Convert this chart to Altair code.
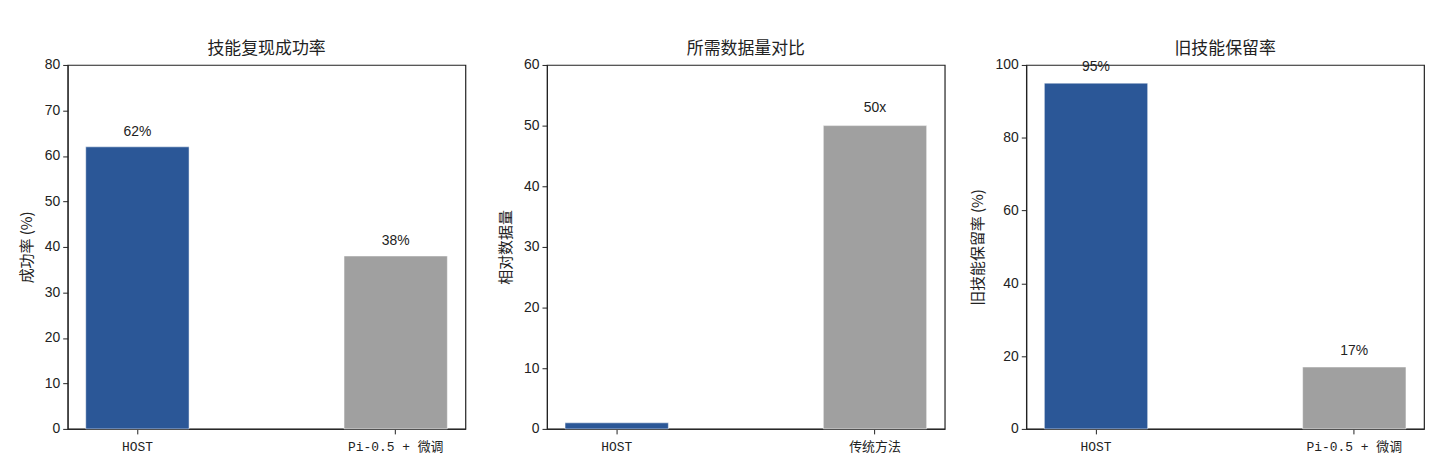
import altair as alt
import pandas as pd

# ---- data ----
titles = ["技能复现成功率", "所需数据量对比", "旧技能保留率"]
y_titles = ["成功率 (%)", "相对数据量", "旧技能保留率 (%)"]
categories_1 = ["HOST", "Pi-0.5 + 微调"]
values_1 = [62, 38]
labels_1 = ["62%", "38%"]
categories_2 = ["HOST", "传统方法"]
values_2 = [1, 50]
labels_2 = ["", "50x"]
categories_3 = ["HOST", "Pi-0.5 + 微调"]
values_3 = [95, 17]
labels_3 = ["95%", "17%"]
y_max = [80, 60, 100]
y_ticks = [list(range(0, 81, 10)), list(range(0, 61, 10)), list(range(0, 101, 20))]
label_dy = [-15, -18, -16]

BLUE = "#2B5797"
GRAY = "#A0A0A0"

CJK = "Noto Sans CJK SC"
INK = "#222222"


def panel(cats, vals, labs, title, ytitle, ymax, ticks, dy):
    df = pd.DataFrame({"cat": cats, "val": vals, "lab": labs,
                       "color": [BLUE, GRAY]})
    x = alt.X("cat:N", sort=cats,
              scale=alt.Scale(paddingInner=0.6, paddingOuter=0.07),
              axis=alt.Axis(title=None, labelAngle=0, labelFont="Liberation Mono, " + CJK,
                            labelFontSize=13, labelColor=INK, labelPadding=7,
                            tickSize=5, tickColor=INK, domainColor=INK))
    y = alt.Y("val:Q", scale=alt.Scale(domain=[0, ymax], nice=False),
              axis=alt.Axis(title=ytitle, values=ticks, titleFont=CJK, titleFontSize=15,
                            titleFontWeight="normal", titleColor=INK,
                            labelFont="Liberation Sans", labelFontSize=14, labelColor=INK,
                            labelPadding=3, tickSize=5, tickColor=INK,
                            domainColor=INK, grid=False, titlePadding=10))
    bars = alt.Chart(df).mark_bar(stroke="white", strokeWidth=0.8, strokeOpacity=0.6).encode(
        x=x, y=y, color=alt.Color("color:N", scale=None))
    text = alt.Chart(df).mark_text(font="Liberation Sans", fontSize=14, color=INK,
                                   baseline="middle", dy=dy).encode(
        x=alt.X("cat:N", sort=cats), y="val:Q", text="lab:N")
    return alt.layer(bars, text).properties(
        width=400, height=366,
        title=alt.TitleParams(title, font=CJK, fontSize=17, fontWeight="normal",
                              color=INK, offset=0))


charts = [
    panel(categories_1, values_1, labels_1, titles[0], y_titles[0], y_max[0], y_ticks[0], label_dy[0]),
    panel(categories_2, values_2, labels_2, titles[1], y_titles[1], y_max[1], y_ticks[1], label_dy[1]),
    panel(categories_3, values_3, labels_3, titles[2], y_titles[2], y_max[2], y_ticks[2], label_dy[2]),
]

chart = alt.hconcat(*charts, spacing=82, bounds="flush").properties(
    padding={"left": 10, "top": 30, "right": 5, "bottom": 5},
    background="white"
).configure_view(stroke=INK, strokeWidth=1.2)

chart.save("out.html", embed_options={"renderer": "svg", "actions": False})
